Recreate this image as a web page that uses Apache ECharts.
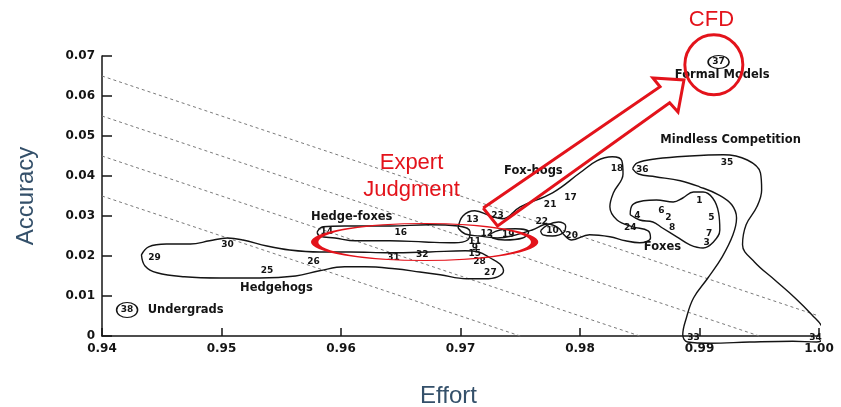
<!DOCTYPE html>
<html>
<head>
<meta charset="utf-8">
<script src="https://cdn.jsdelivr.net/npm/echarts@6/dist/echarts.min.js"></script>
<style>
  html, body { margin: 0; background: #fff; }
  #chart { width: 841px; height: 407px; }
</style>
</head>
<body>
<div id="chart"></div>
<script>
// forecaster ids and where they sit (effort, accuracy)
const pointIds = ['1','2','3','4','5','6','7','8','9','10','11','12','13','14','15','16','17','18','19',
  '20','21','22','23','24','25','26','27','28','29','30','31','32','33','34','35','36','37','38'];
const pointEffort = [0.9900,0.9874,0.9906,0.9848,0.9910,0.9868,0.9908,0.9877,0.9712,0.9777,0.9712,0.9722,
  0.9710,0.9588,0.9712,0.9650,0.9792,0.9831,0.9740,0.9793,0.9775,0.9768,0.9731,0.9842,0.9538,0.9577,
  0.9725,0.9716,0.9444,0.9505,0.9644,0.9668,0.9895,0.9997,0.9923,0.9852,0.9916,0.9421];
const pointAccuracy = [0.0338,0.0295,0.0233,0.0300,0.0295,0.0313,0.0255,0.0270,0.0220,0.0263,0.0235,0.0255,
  0.0290,0.0260,0.0205,0.0258,0.0345,0.0418,0.0253,0.0250,0.0328,0.0285,0.0300,0.0270,0.0163,0.0185,
  0.0158,0.0185,0.0195,0.0228,0.0195,0.0203,-0.0005,-0.0005,0.0433,0.0415,0.0685,0.0065];

// group names
const groupNames = ['Formal Models','Mindless Competition','Fox-hogs','Hedge-foxes','Hedgehogs','Foxes','Undergrads'];
const groupEffort = [0.9919,0.9926,0.9761,0.9609,0.9546,0.9869,0.9470];
const groupAccuracy = [0.0653,0.0490,0.0413,0.0298,0.0120,0.0223,0.0065];

// iso lines (effort + accuracy = const)
const isoLines = [
  [[0.94,0.065],[1.00,0.005]],
  [[0.94,0.055],[0.995,0]],
  [[0.94,0.045],[0.985,0]],
  [[0.94,0.035],[0.975,0]]
];

// group outlines
const hedgehogs = [[0.9433,0.0203],[0.9439,0.0223],[0.9454,0.0230],[0.9474,0.0230],[0.9490,0.0238],[0.9505,0.0245],
  [0.9518,0.0240],[0.9538,0.0225],[0.9557,0.0215],[0.9582,0.0210],[0.9608,0.0210],[0.9641,0.0208],[0.9674,0.0210],
  [0.9704,0.0213],[0.9715,0.0210],[0.9725,0.0195],[0.9733,0.0180],[0.9736,0.0163],[0.9731,0.0148],[0.9720,0.0143],
  [0.9705,0.0143],[0.9683,0.0153],[0.9666,0.0160],[0.9645,0.0168],[0.9620,0.0173],[0.9603,0.0173],[0.9582,0.0163],
  [0.9562,0.0150],[0.9532,0.0145],[0.9499,0.0145],[0.9469,0.0148],[0.9446,0.0158],[0.9436,0.0175]];
const hedgeFoxes = [[0.9580,0.0260],[0.9585,0.0273],[0.9603,0.0275],[0.9641,0.0275],[0.9674,0.0278],[0.9698,0.0275],
  [0.9708,0.0260],[0.9706,0.0240],[0.9695,0.0233],[0.9670,0.0235],[0.9641,0.0238],[0.9612,0.0238],[0.9595,0.0245],
  [0.9582,0.0250]];
const foxHogs = [[0.9698,0.0270],[0.9702,0.0300],[0.9712,0.0313],[0.9725,0.0300],[0.9735,0.0293],[0.9750,0.0323],
  [0.9777,0.0358],[0.9800,0.0408],[0.9814,0.0438],[0.9827,0.0448],[0.9835,0.0438],[0.9836,0.0405],[0.9828,0.0358],
  [0.9825,0.0323],[0.9831,0.0290],[0.9844,0.0273],[0.9857,0.0263],[0.9859,0.0245],[0.9850,0.0233],[0.9838,0.0238],
  [0.9825,0.0248],[0.9808,0.0253],[0.9793,0.0240],[0.9786,0.0255],[0.9782,0.0270],[0.9773,0.0280],[0.9760,0.0265],
  [0.9743,0.0250],[0.9731,0.0245],[0.9716,0.0250],[0.9704,0.0255]];
const foxes = [[0.9842,0.0303],[0.9844,0.0328],[0.9853,0.0338],[0.9864,0.0340],[0.9878,0.0335],[0.9886,0.0345],
  [0.9895,0.0360],[0.9903,0.0360],[0.9911,0.0345],[0.9916,0.0308],[0.9917,0.0265],[0.9911,0.0233],[0.9903,0.0220],
  [0.9892,0.0228],[0.9881,0.0248],[0.9869,0.0270],[0.9861,0.0285],[0.9850,0.0290]];
const mindless = [[0.9844,0.0418],[0.9848,0.0433],[0.9864,0.0443],[0.9892,0.0450],[0.9920,0.0453],[0.9940,0.0440],
  [0.9951,0.0408],[0.9952,0.0365],[0.9948,0.0323],[0.9939,0.0278],[0.9936,0.0228],[0.9946,0.0185],[0.9963,0.0140],
  [0.9980,0.0095],[0.9994,0.0053],[1.0003,0.0020],[1.0004,-0.0003],[0.9998,-0.0015],[0.9978,-0.0013],[0.9942,-0.0015],
  [0.9909,-0.0018],[0.9890,-0.0015],[0.9886,0.0003],[0.9889,0.0045],[0.9895,0.0095],[0.9907,0.0145],[0.9919,0.0198],
  [0.9928,0.0253],[0.9931,0.0295],[0.9927,0.0328],[0.9916,0.0353],[0.9900,0.0373],[0.9884,0.0388],[0.9863,0.0398],
  [0.9849,0.0405]];
const loop10 = [[0.9767,0.0263],[0.9773,0.0278],[0.9782,0.0285],[0.9788,0.0275],[0.9786,0.0258],[0.9777,0.0250],[0.9769,0.0253]];
const loop19 = [[0.9725,0.0255],[0.9733,0.0265],[0.9746,0.0268],[0.9757,0.0260],[0.9752,0.0245],[0.9737,0.0240],[0.9727,0.0245]];

// red overlay
const arrowOutline = [[0.9719,0.0320],[0.9867,0.0623],[0.9861,0.0645],[0.9887,0.0640],[0.9882,0.0560],[0.9875,0.0583],[0.9731,0.0275],[0.9719,0.0320]];
const expertCentre = [0.9670,0.0235];
const cfdCentre = [0.9912,0.0678];
const redTexts = [
  { name: 'CFD', value: [0.9910, 0.0790] },
  { name: 'Expert', value: [0.9659, 0.0433] },
  { name: 'Judgment', value: [0.9659, 0.0365] }
];

const RED = '#e3131b';
const INK = '#141414';
const chart = echarts.init(document.getElementById('chart'));

function outline(data) {
  return {
    type: 'line', data: data.concat([data[0]]), smooth: 0.4, symbol: 'none', clip: false, silent: true,
    lineStyle: { color: INK, width: 1.4 }, z: 3
  };
}

const clear = { color: 'rgba(0,0,0,0)', opacity: 1 };
const series = [];
isoLines.forEach(function (l) {
  series.push({
    type: 'line', data: l, symbol: 'none', silent: true, clip: false,
    lineStyle: { color: '#7a7a7a', width: 1, type: [3, 3] }, z: 2
  });
});
[hedgehogs, hedgeFoxes, foxHogs, foxes, mindless, loop10, loop19].forEach(function (c) {
  series.push(outline(c));
});
// id numbers
series.push({
  type: 'scatter', clip: false, silent: true, symbolSize: 1, itemStyle: clear,
  data: pointIds.map(function (id, i) { return { name: id, value: [pointEffort[i], pointAccuracy[i]] }; }),
  label: {
    show: true, position: 'inside', formatter: '{b}', color: INK,
    fontFamily: 'DejaVu Sans', fontWeight: 'bold', fontSize: 9
  }, z: 5
});
// circled 37 and 38
series.push({
  type: 'scatter', clip: false, silent: true, symbol: 'circle',
  data: [
    { value: [pointEffort[36], pointAccuracy[36]], symbolSize: [21, 13] },
    { value: [pointEffort[37], pointAccuracy[37]], symbolSize: [21, 15] }
  ],
  itemStyle: { color: 'rgba(0,0,0,0)', opacity: 1, borderColor: INK, borderWidth: 1.3 }, z: 4
});
// group names
series.push({
  type: 'scatter', clip: false, silent: true, symbolSize: 1, itemStyle: clear,
  data: groupNames.map(function (g, i) { return { name: g, value: [groupEffort[i], groupAccuracy[i]] }; }),
  label: {
    show: true, position: 'inside', formatter: '{b}', color: INK,
    fontFamily: 'DejaVu Sans', fontWeight: 'bold', fontSize: 11.5
  }, z: 5
});
// red arrow
series.push({
  type: 'line', data: arrowOutline, symbol: 'none', clip: false, silent: true,
  lineStyle: { color: RED, width: 3, join: 'miter' }, z: 8
});
// red ellipse + circle
series.push({
  type: 'scatter', clip: false, silent: true, symbol: 'circle',
  data: [
    { value: expertCentre, symbolSize: [220, 37] },
    { value: cfdCentre, symbolSize: [58, 60] }
  ],
  itemStyle: { color: 'rgba(0,0,0,0)', opacity: 1, borderColor: RED, borderWidth: 3 }, z: 8
});
// red words
series.push({
  type: 'scatter', clip: false, silent: true, symbolSize: 1, itemStyle: clear,
  data: redTexts,
  label: {
    show: true, position: 'inside', formatter: '{b}', color: RED,
    fontFamily: 'Liberation Sans', fontSize: 22
  }, z: 9
});

const option = {
  animation: false,
  backgroundColor: '#fff',
  grid: { left: 102, right: 22, top: 56, bottom: 71, outerBoundsMode: 'none' },
  xAxis: {
    type: 'value', min: 0.94, max: 1.0, interval: 0.01,
    name: 'Effort', nameLocation: 'middle', nameGap: 48,
    nameTextStyle: { fontFamily: 'Liberation Sans', fontSize: 24, color: '#34506a', padding: [0, 24, 0, 0] },
    axisLine: { lineStyle: { color: INK, width: 1.5 } },
    axisTick: { inside: true, length: 8, lineStyle: { color: INK, width: 1.5 } },
    axisLabel: {
      margin: 7, color: INK, fontFamily: 'DejaVu Sans', fontWeight: 'bold', fontSize: 12,
      formatter: function (v) { return v.toFixed(2); }
    },
    splitLine: { show: false }
  },
  yAxis: {
    type: 'value', min: 0, max: 0.07, interval: 0.01,
    name: 'Accuracy', nameLocation: 'middle', nameGap: 64,
    nameTextStyle: { fontFamily: 'Liberation Sans', fontSize: 24, color: '#34506a' },
    axisLine: { show: true, lineStyle: { color: INK, width: 1.5 } },
    axisTick: { show: true, inside: true, length: 10, lineStyle: { color: INK, width: 1.5 } },
    axisLabel: {
      margin: 7, color: INK, fontFamily: 'DejaVu Sans', fontWeight: 'bold', fontSize: 12,
      formatter: function (v) { return v === 0 ? '0' : v.toFixed(2); }
    },
    splitLine: { show: false }
  },
  series: series
};
chart.setOption(option);
</script>
</body>
</html>
